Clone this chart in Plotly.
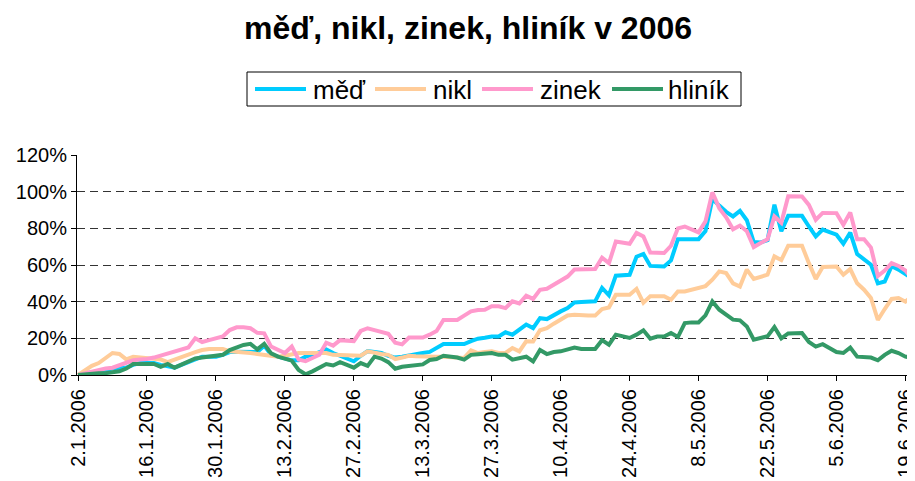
import plotly.graph_objects as go
import pandas as pd

# business-day categories (2.1.2006 .. 20.6.2006)
dates = pd.bdate_range("2006-01-02", periods=122)
categories = [f"{d.day}.{d.month}.{d.year}" for d in dates]
tick_labels = categories[0:121:10]

med = [0,1,1.5,2,3,3.5,4,4,5.5,6.5,
 6.5,6.5,5.5,5,4,5.5,7,9,10,10,
 10,11,12.5,12.7,12.7,12.7,12.5,16,11,10,
 9,8,8,10,11,12.5,14,12,10.5,8.5,
 7.5,10.5,13,12.5,12,10.5,9.5,10,10.5,11,
 12,12.6,15,16.9,16.9,16.9,16.9,18.5,19.8,20.3,
 21,21,23.3,22,24.5,27.5,25.6,31,30.5,32.9,
 34.7,36.5,39.6,39.8,40,40.2,47.5,43.5,54.2,54.5,
 54.7,64.5,66,59.5,59.3,59.2,62.5,74,74,74,
 74.1,78.5,96,92.4,89,86.5,89.5,84.4,72.5,72.3,
 73.5,92.9,78.4,86.8,86.8,86.8,81,75.6,79.3,78,
 76.5,71.6,77.7,66,63,60.2,50,51,59.3,57.5,
 55,52.7]

nikl = [0,2.5,5,6.5,9.5,12,11.5,8.5,10,9.5,
 9,9,8.5,7,8.5,9.5,11,12.5,13.6,14.2,
 14.2,14.2,13,12.7,12.7,12,11.5,11,10,10,
 10.5,11.5,12,12,12,12,12,11,11,11,
 11,10.5,12.9,12,11.5,11,8.7,9.5,10.5,10.2,
 10,10,10,10,9.8,9.5,9.3,13.4,12,12.5,
 12.9,12,12,14.7,12.9,18.4,18.3,24.4,25.6,28,
 30.2,32.5,32.9,32.5,32.4,32.4,36,36.8,43.8,43.8,
 43.8,47,39.4,43,43,43,41,45.6,45.6,46.5,
 47.5,48.5,52,56.5,55.6,50,48.3,57.5,52.4,53.5,
 54.7,64.7,62.7,70.5,70.5,70.5,61,52.4,58.9,59,
 59.2,54.7,57.8,50,46.5,42,30,36,41.5,42,
 40,43]

zinek = [0,1,2,2.5,3.5,4,5.5,7,8,8.5,
 8.7,9.5,10.5,12,13,14,15,20,18,19,
 20,21,24.5,26,26,25.5,23,22.7,15.5,13.5,
 12,15.5,8.4,7.5,9.5,11,17.6,16,19,18.5,
 18.5,24,25.5,24.5,23.5,22.5,17.6,16.7,20.4,20.4,
 20.4,22,24,30,30,30,32.4,34.7,35.5,35.6,
 37.5,37.5,36.5,40.2,39,43.3,41.5,46.5,47,49.3,
 51,53.7,57.5,57.7,57.7,57.8,64,61,72.8,72.3,
 71.6,77.5,75.6,66.8,66.5,66.5,70.5,80,81,79.5,
 77.8,83.8,99.6,91,86,79.5,81.5,78.4,69.8,72,
 74,86.5,83,97.5,97.5,97.4,92.8,84.7,88.4,88.3,
 88.3,82,88.7,74,74,69.5,54,57,61,59.5,
 57,52.4]

hlinik = [0,0.5,1,1,1,1.5,2,3.5,6,6,
 6,6,4.5,6,4,5.5,7,9,9.5,10,
 10,11,13.6,15,16.4,17,14,17,11.8,10,
 9,7.8,2.7,0.4,2,4,6,5.2,7,5.5,
 4,6.5,5,10,9,7,3.4,4.5,4.8,5,
 5.8,8.2,8.7,10.5,10,9.5,8.4,11,11.3,11.7,
 12,11,11,8.4,9,10,7.4,13.6,11.4,12.5,
 12.9,13.8,15,14.2,14,14.2,19,16.5,22,21,
 20.2,22,24.4,19.8,21,21,22.9,20.7,28.3,28.7,
 28.7,32.5,40.1,35.6,33,30.2,29.8,26.5,19.3,20.2,
 21.1,26.2,20,22.7,22.9,22.9,18,15.5,16.8,14.5,
 12.5,12,15,10,10,9.5,8,11,13.2,12,
 10,9.5]

names = ["měď", "nikl", "zinek", "hliník"]
colors = ["#00CCFF", "#FFCC99", "#FF99CC", "#339966"]
values = [med, nikl, zinek, hlinik]

FONT = "Liberation Sans, Arial, sans-serif"
OFF = 8  # page body margin of the browser
W, H = 915 - OFF, 481 - OFF
ML, MR, MT, MB = 77 - OFF, 2, 155 - OFF, 106
PW, PH = W - ML - MR, H - MT - MB

def px(x):  # screen pixel -> paper x
    return (x - OFF - ML) / PW

def py(y):  # screen pixel -> paper y
    return (H - MB - (y - OFF)) / PH

fig = go.Figure()
for name, vals, col in zip(names, values, colors):
    fig.add_trace(go.Scatter(x=categories, y=[v / 100 for v in vals], name=name,
                             mode="lines", line=dict(color=col, width=4),
                             showlegend=False))

# legend box drawn as shapes + text
shapes = [dict(type="rect", xref="paper", yref="paper", x0=px(247), x1=px(741),
               y0=py(106), y1=py(72), line=dict(color="black", width=1),
               fillcolor="white", layer="above")]
annotations = []
line_x = [255, 375, 482, 612]
text_x = [311, 431, 538, 666]
for name, col, lx, tx in zip(names, colors, line_x, text_x):
    shapes.append(dict(type="line", xref="paper", yref="paper", x0=px(lx), x1=px(lx + 51),
                       y0=py(89), y1=py(89), line=dict(color=col, width=4), layer="above"))
    annotations.append(dict(text=name, xref="paper", yref="paper", x=px(tx), y=py(89.5),
                            xanchor="left", yanchor="middle", showarrow=False,
                            font=dict(size=26, family=FONT, color="black")))

fig.update_layout(
    width=W, height=H,
    margin=dict(l=ML, r=MR, t=MT, b=MB),
    paper_bgcolor="white", plot_bgcolor="white",
    font=dict(family=FONT, color="black", size=20),
    title=dict(text="<b>měď, nikl, zinek, hliník v 2006</b>", x=(468 - OFF)/W, xanchor="center",
               xref="container", y=1-20/H, yanchor="middle", yref="container",
               font=dict(size=32, family=FONT, color="black")),
    shapes=shapes, annotations=annotations,
    showlegend=False,
)
fig.update_xaxes(type="category", range=[-0.15, 121.1], tickmode="array",
                 tickvals=tick_labels, ticktext=tick_labels, tickangle=-90,
                 ticks="outside", ticklen=5, tickcolor="black", showline=True,
                 linecolor="black", linewidth=1, showgrid=False, automargin=False,
                 tickfont=dict(size=20, family=FONT, color="black"))
fig.update_yaxes(range=[0, 1.2], dtick=0.2, tickformat=".0%", ticks="outside",
                 ticklen=5, tickcolor="black", showline=True, linecolor="black",
                 linewidth=1, showgrid=True, gridcolor="#333333", gridwidth=1,
                 griddash="8px,5px", zeroline=False, automargin=False,
                 tickfont=dict(size=20, family=FONT, color="black"))

fig.write_html("out.html")
